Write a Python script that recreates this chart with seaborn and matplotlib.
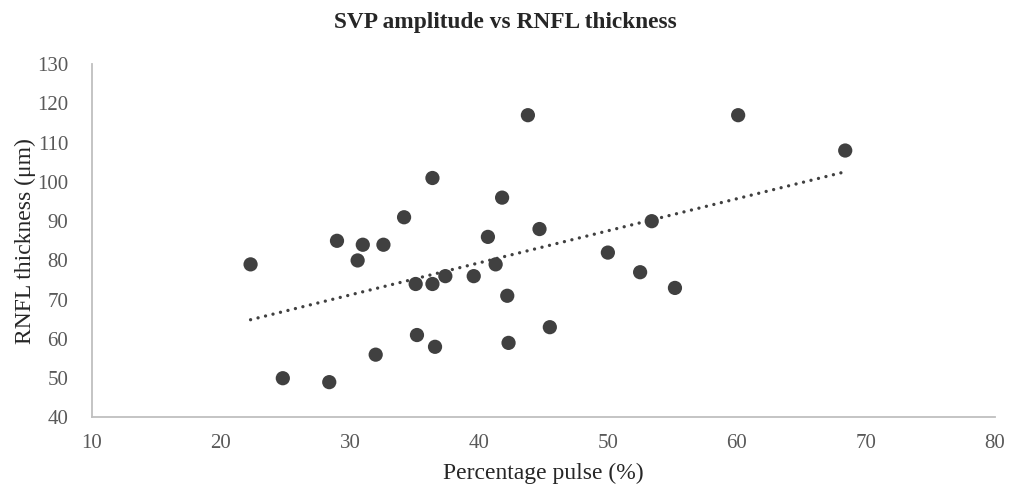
import numpy as np
import pandas as pd
import matplotlib
matplotlib.use("Agg")
import matplotlib.pyplot as plt
import seaborn as sns

pulse_pct = [22.3, 24.8, 28.4, 29.0, 30.6, 31.0, 32.6, 32.0, 34.2, 35.1,
             35.2, 36.4, 36.4, 36.6, 37.4, 39.6, 40.7, 41.3, 41.8, 42.2,
             42.3, 43.8, 44.7, 45.5, 50.0, 52.5, 53.4, 55.2, 60.1, 68.4]
rnfl_um = [79, 50, 49, 85, 80, 84, 84, 56, 91, 74,
           61, 101, 74, 58, 76, 76, 86, 79, 96, 71,
           59, 117, 88, 63, 82, 77, 90, 73, 117, 108]
x_ticks = [10, 20, 30, 40, 50, 60, 70, 80]
y_ticks = [40, 50, 60, 70, 80, 90, 100, 110, 120, 130]

df = pd.DataFrame({"pulse": pulse_pct, "rnfl": rnfl_um})

sns.set_style("white")
plt.rcParams['font.family'] = ['Liberation Serif', 'DejaVu Serif']

fig = plt.figure(figsize=(10.1, 4.86), dpi=100)
ax = fig.add_axes([0.091, 0.141, 0.894, 0.727])

sns.regplot(data=df, x="pulse", y="rnfl", scatter=False, ci=None, truncate=True,
            ax=ax, line_kws=dict(color="#404040", linestyle=(0, (0.01, 2.3)),
                                 linewidth=2.4, dash_capstyle="round"))
sns.scatterplot(data=df, x="pulse", y="rnfl", ax=ax, s=105, color="#404040",
                edgecolor="none", zorder=3)

ax.set_xlim(10, 80)
ax.set_ylim(40, 130)
ax.set_xticks(x_ticks)
ax.set_yticks(y_ticks)
ax.tick_params(axis="x", length=0, labelsize=15, colors="#595959", pad=12)
ax.tick_params(axis="y", length=0, labelsize=15, colors="#595959", pad=17)
for s in ["top", "right"]:
    ax.spines[s].set_visible(False)
for s in ["left", "bottom"]:
    ax.spines[s].set_color("#bfbfbf")
    ax.spines[s].set_linewidth(1.3)

ax.set_xlabel("Percentage pulse (%)", fontsize=17, color="#262626", labelpad=7)
ax.set_ylabel("RNFL thickness (\u03bcm)", fontsize=17, color="#262626", labelpad=1)
fig.suptitle("SVP amplitude vs RNFL thickness", fontsize=16.8, fontweight="bold",
             color="#262626", y=0.975)

fig.savefig("out.png", dpi=100)
